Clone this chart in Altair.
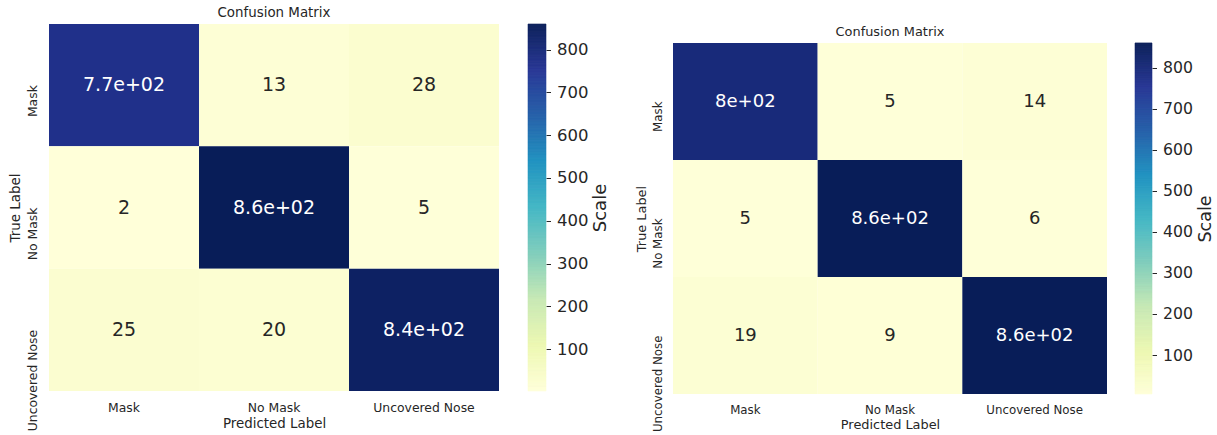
import altair as alt
import pandas as pd

# Class names shared by both matrices (rows = true label, columns = predicted label)
CLASSES = ["Mask", "No Mask", "Uncovered Nose"]

LEFT_COUNTS_MASK = [770, 13, 28]
LEFT_COUNTS_NOMASK = [2, 860, 5]
LEFT_COUNTS_NOSE = [25, 20, 840]

RIGHT_COUNTS_MASK = [800, 5, 14]
RIGHT_COUNTS_NOMASK = [5, 860, 6]
RIGHT_COUNTS_NOSE = [19, 9, 860]

COLORBAR_TICKS = [100, 200, 300, 400, 500, 600, 700, 800]

# ColorBrewer YlGnBu, spread evenly across the value range
YLGNBU = ["#ffffd9", "#edf8b1", "#c7e9b4", "#7fcdbb", "#41b6c4",
          "#1d91c0", "#225ea8", "#253494", "#081d58"]

INK = "#262626"
FONT = "DejaVu Sans"


def to_frame(rows):
    records = []
    for true_lbl, row in zip(CLASSES, rows):
        for pred_lbl, v in zip(CLASSES, row):
            records.append({"true": true_lbl, "pred": pred_lbl, "count": v,
                            "label": f"{v:.2g}"})
    return pd.DataFrame(records)


def panel(rows, width, height, top, bar_gap, bar_width, fs, title_text):
    df = to_frame(rows)
    vmin = min(min(r) for r in rows)
    vmax = max(max(r) for r in rows)
    n = len(YLGNBU) - 1
    stops = [vmin + (vmax - vmin) * k / n for k in range(n + 1)]
    cscale = alt.Scale(domain=stops, range=YLGNBU, interpolate="rgb")

    base = alt.Chart(df).encode(
        x=alt.X("pred:N", sort=CLASSES,
                scale=alt.Scale(paddingInner=0, paddingOuter=0),
                axis=alt.Axis(title="Predicted Label", labelAngle=0, ticks=False,
                              domain=False, labelPadding=fs["xpad"],
                              labelFontSize=fs["tick"], titleFontSize=fs["axis"],
                              titlePadding=fs["xtitlepad"])),
        y=alt.Y("true:N", sort=CLASSES,
                scale=alt.Scale(paddingInner=0, paddingOuter=0, range=[top, height]),
                axis=alt.Axis(title="True Label", labelAngle=270, labelAlign="right",
                              labelBaseline="bottom", ticks=False, domain=False,
                              labelPadding=fs["ypad"], labelFontSize=fs["tick"],
                              titleFontSize=fs["axis"], titlePadding=fs["ytitlepad"])),
    )
    cells = base.mark_rect().encode(
        color=alt.Color("count:Q", scale=cscale, legend=None)
    )
    notes = base.mark_text(fontSize=fs["annot"], font=FONT).encode(
        text="label:N",
        color=alt.condition(f"datum.count > {(vmin + vmax) / 2}",
                            alt.value("white"), alt.value(INK)),
    )
    heat = alt.layer(cells, notes)

    # colour bar: thin bands stepping through the colour scale
    bar = alt.Chart(alt.sequence(start=vmin, stop=vmax, step=2, as_="v")).transform_calculate(
        v2="min(datum.v + 2, %d)" % vmax, mid="datum.v + 1"
    ).mark_rect(strokeWidth=0.6).encode(
        x=alt.value(width + bar_gap),
        x2=alt.value(width + bar_gap + bar_width),
        y=alt.Y("v:Q",
                scale=alt.Scale(domain=[vmin, vmax], nice=False, zero=False,
                                range=[height, top]),
                axis=alt.Axis(orient="right", offset=bar_gap + bar_width,
                              values=COLORBAR_TICKS, tickSize=4.5, tickWidth=1,
                              tickColor=INK, domain=False, grid=False,
                              labelFontSize=fs["cbar"], labelPadding=fs["cbarpad"],
                              title="Scale", titleFontSize=fs["scale"],
                              titleAngle=270, titleBaseline="top",
                              titlePadding=fs["scalepad"])),
        y2="v2:Q",
        color=alt.Color("mid:Q", scale=cscale, legend=None),
        stroke=alt.Stroke("mid:Q", scale=cscale, legend=None),
    )

    return alt.layer(heat, bar).resolve_scale(y="independent").properties(
        width=width, height=height,
        title=alt.Title(title_text, fontSize=fs["title"], fontWeight="normal",
                        font=FONT, color=INK, offset=4, dy=top),
    )


left_fs = dict(tick=12.4, axis=13.4, title=13.4, annot=19, cbar=16.5, scale=18,
               xpad=10, ypad=10, xtitlepad=3, ytitlepad=4, cbarpad=6, scalepad=4)
right_fs = dict(tick=11.8, axis=12.9, title=12.9, annot=18, cbar=15.7, scale=17.5,
                xpad=10, ypad=10, xtitlepad=3, ytitlepad=4, cbarpad=6, scalepad=4)

left = panel([LEFT_COUNTS_MASK, LEFT_COUNTS_NOMASK, LEFT_COUNTS_NOSE],
             450, 367, 0, 29, 18, left_fs, "Confusion Matrix")
right = panel([RIGHT_COUNTS_MASK, RIGHT_COUNTS_NOMASK, RIGHT_COUNTS_NOSE],
              434, 370, 19, 28, 17, right_fs, "Confusion Matrix")

chart = alt.hconcat(left, right, spacing=25).properties(
    padding={"left": 7, "top": 6, "right": 0, "bottom": 0}
).configure(
    font=FONT,
    background="white",
).configure_view(
    stroke=None
).configure_axis(
    labelColor=INK, titleColor=INK, labelFont=FONT, titleFont=FONT,
    titleFontWeight="normal", labelOverlap=False
)

chart.save("out.html", embed_options={"renderer": "svg", "actions": False})
